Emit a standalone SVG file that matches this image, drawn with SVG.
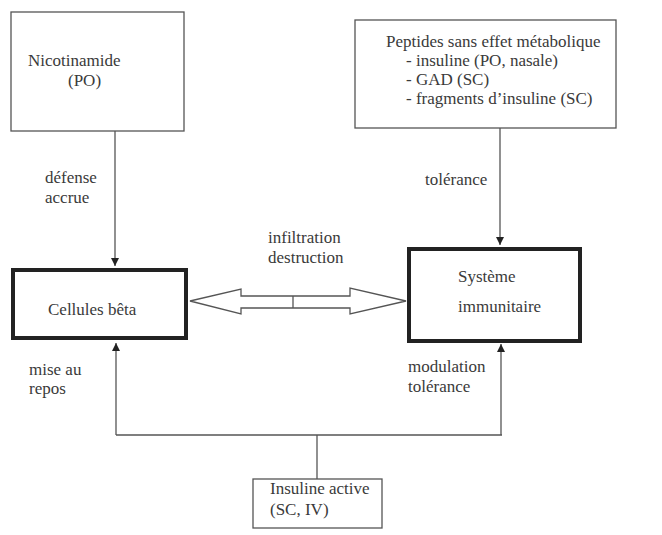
<svg xmlns="http://www.w3.org/2000/svg" width="662" height="535" viewBox="0 0 662 535">
<style>
text{font-family:"Liberation Serif","DejaVu Serif",serif;font-size:17px;fill:#3a3a3a}
.thin{fill:#fff;stroke:#555;stroke-width:1.3}
.thick{fill:#fff;stroke:#222;stroke-width:4}
.ln{fill:none;stroke:#555;stroke-width:1.3}
</style>
<defs>
<marker id="ah" viewBox="0 0 10 10" refX="10" refY="5" markerWidth="8" markerHeight="8" markerUnits="userSpaceOnUse" orient="auto">
<path d="M0,0 L10,5 L0,10 Z" fill="#222"/>
</marker>
</defs>
<rect width="662" height="535" fill="#fff"/>
<g id="connectors">
<line class="ln" x1="115" y1="131" x2="115" y2="266" marker-end="url(#ah)"/>
<line class="ln" x1="500" y1="128" x2="500" y2="245" marker-end="url(#ah)"/>
<polyline class="ln" points="116,435 502,435"/>
<line class="ln" x1="116" y1="435" x2="116" y2="343" marker-end="url(#ah)"/>
<line class="ln" x1="501" y1="435" x2="501" y2="344" marker-end="url(#ah)"/>
<line class="ln" x1="317" y1="435" x2="317" y2="479"/>
<path class="thin" d="M190,301 L241,289 L241,296 L350,296 L350,288 L406,301 L350,314 L350,308 L241,308 L241,314 Z"/>
<line class="ln" x1="293" y1="296" x2="293" y2="308"/>
<text x="268" y="243">infiltration</text>
<text x="268" y="263">destruction</text>
<text x="45" y="183">défense</text>
<text x="45" y="203">accrue</text>
<text x="425" y="185">tolérance</text>
<text x="29" y="375">mise au</text>
<text x="29" y="394">repos</text>
<text x="408" y="372">modulation</text>
<text x="408" y="392">tolérance</text>
</g>
<g id="nicotinamide">
<rect class="thin" x="11" y="12" width="173" height="119"/>
<text x="28" y="66">Nicotinamide</text>
<text x="68" y="86">(PO)</text>
</g>
<g id="peptides">
<rect class="thin" x="355" y="20" width="261" height="108"/>
<text x="386" y="47">Peptides sans effet métabolique</text>
<text x="406" y="66">- insuline (PO, nasale)</text>
<text x="406" y="85">- GAD (SC)</text>
<text x="406" y="104">- fragments d’insuline (SC)</text>
</g>
<g id="cellules">
<rect class="thick" x="13" y="270" width="173" height="68"/>
<text x="48" y="315">Cellules bêta</text>
</g>
<g id="systeme">
<rect class="thick" x="409" y="249" width="171" height="92"/>
<text x="458" y="282">Système</text>
<text x="458" y="312">immunitaire</text>
</g>
<g id="insuline">
<rect class="thin" x="253" y="479" width="129" height="49"/>
<text x="270" y="494">Insuline active</text>
<text x="270" y="515">(SC, IV)</text>
</g>
</svg>
